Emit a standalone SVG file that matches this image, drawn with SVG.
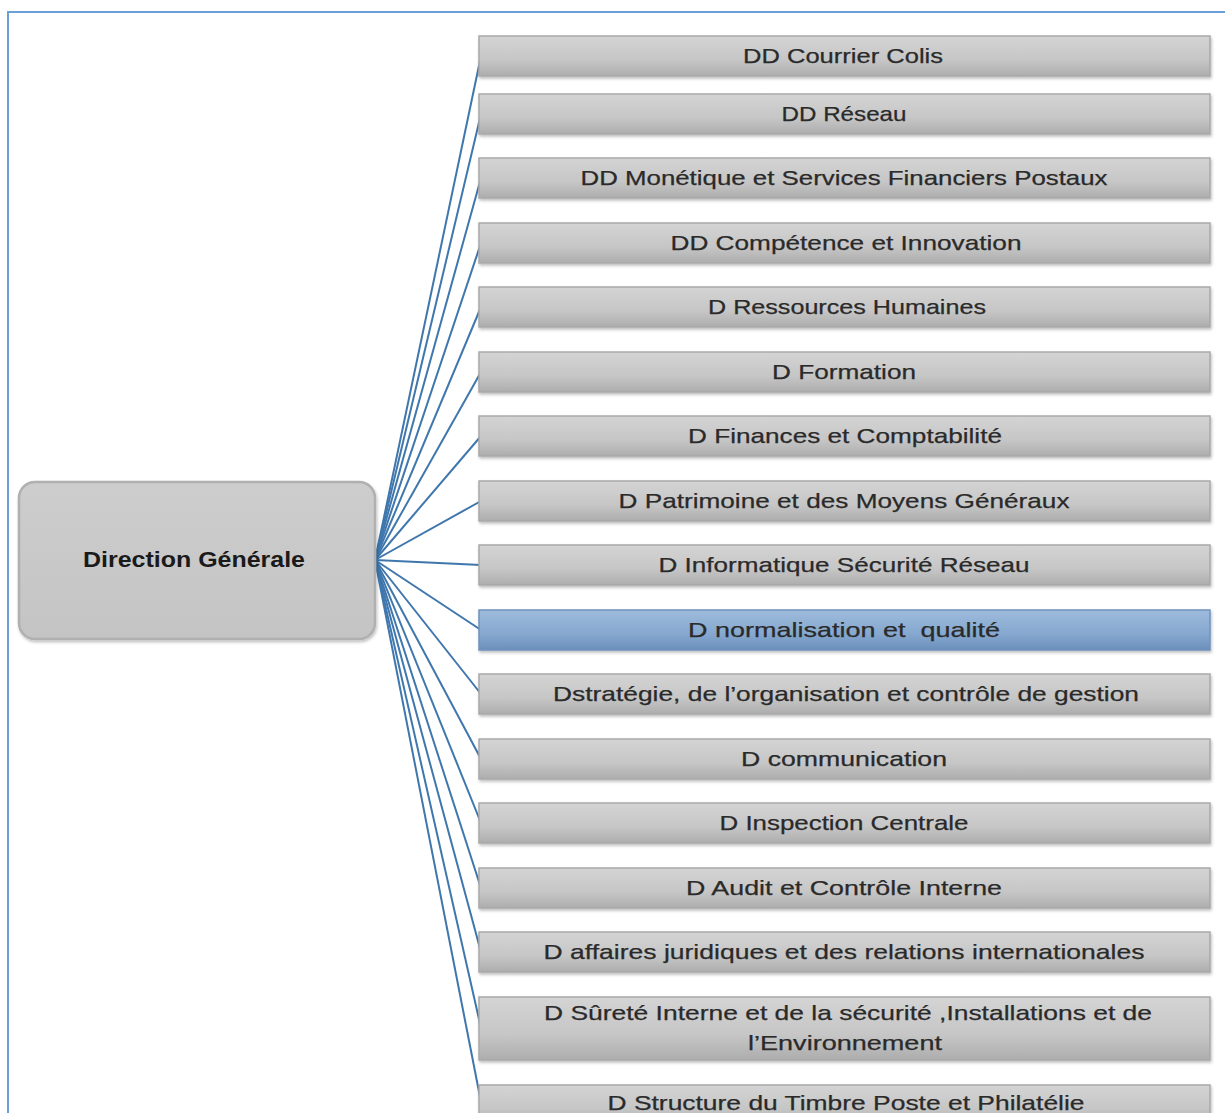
<svg xmlns="http://www.w3.org/2000/svg" width="1225" height="1113" viewBox="0 0 1225 1113">
<defs>
<linearGradient id="g" x1="0" y1="0" x2="0" y2="1">
<stop offset="0" stop-color="#d4d4d4"/><stop offset="0.6" stop-color="#c6c6c6"/><stop offset="1" stop-color="#adadad"/>
</linearGradient>
<linearGradient id="gb" x1="0" y1="0" x2="0" y2="1">
<stop offset="0" stop-color="#9dbbdc"/><stop offset="0.6" stop-color="#86a8cf"/><stop offset="1" stop-color="#6a8fba"/>
</linearGradient>
<linearGradient id="gc" x1="0" y1="0" x2="0" y2="1">
<stop offset="0" stop-color="#cdcdcd"/><stop offset="1" stop-color="#c4c4c4"/>
</linearGradient>
<filter id="sh" x="-5%" y="-20%" width="110%" height="150%">
<feDropShadow dx="1" dy="2" stdDeviation="1.5" flood-color="#000" flood-opacity="0.25"/>
</filter>
</defs>
<style>
.box{fill:url(#g);stroke:#a9a9a9;stroke-width:1.5;filter:url(#sh)}
.hl{fill:url(#gb);stroke:#6f93bd}
.t{font-family:"Liberation Sans",Arial,sans-serif;font-size:21px;fill:#2a2a2a;text-anchor:middle;stroke:#2a2a2a;stroke-width:0.25}
.c line{stroke:#3f77ad;stroke-width:2}
</style>
<rect x="8" y="12" width="1240" height="1200" fill="#fff" stroke="#6a9fd8" stroke-width="2"/>

<g class="c">
<line x1="375" y1="560" x2="481" y2="56"/>
<line x1="375" y1="560" x2="481" y2="114"/>
<line x1="375" y1="560" x2="481" y2="178"/>
<line x1="375" y1="560" x2="481" y2="243"/>
<line x1="375" y1="560" x2="481" y2="307"/>
<line x1="375" y1="560" x2="481" y2="372"/>
<line x1="375" y1="560" x2="481" y2="436"/>
<line x1="375" y1="560" x2="481" y2="501"/>
<line x1="375" y1="560" x2="481" y2="565"/>
<line x1="375" y1="560" x2="481" y2="630"/>
<line x1="375" y1="560" x2="481" y2="694"/>
<line x1="375" y1="560" x2="481" y2="759"/>
<line x1="375" y1="560" x2="481" y2="823"/>
<line x1="375" y1="560" x2="481" y2="888"/>
<line x1="375" y1="560" x2="481" y2="952"/>
<line x1="375" y1="560" x2="481" y2="1028"/>
<line x1="375" y1="560" x2="481" y2="1102"/>
</g>

<g id="root">
<rect x="19" y="482" width="356" height="157" rx="16" fill="url(#gc)" stroke="#b0b0b0" stroke-width="2.5" filter="url(#sh)"/>
<text x="194" y="567" font-family="'Liberation Sans',Arial,sans-serif" font-size="22" font-weight="bold" fill="#1a1a1a" text-anchor="middle" textLength="222" lengthAdjust="spacingAndGlyphs">Direction Générale</text>
</g>

<g id="n1"><rect class="box" x="479" y="36" width="731" height="40"/><text class="t" x="843" y="63" textLength="200" lengthAdjust="spacingAndGlyphs">DD Courrier Colis</text></g>
<g id="n2"><rect class="box" x="479" y="94" width="731" height="40"/><text class="t" x="844" y="121" textLength="125" lengthAdjust="spacingAndGlyphs">DD Réseau</text></g>
<g id="n3"><rect class="box" x="479" y="158" width="731" height="40"/><text class="t" x="844" y="185" textLength="527" lengthAdjust="spacingAndGlyphs">DD Monétique et Services Financiers Postaux</text></g>
<g id="n4"><rect class="box" x="479" y="223" width="731" height="40"/><text class="t" x="846" y="250" textLength="351" lengthAdjust="spacingAndGlyphs">DD Compétence et Innovation</text></g>
<g id="n5"><rect class="box" x="479" y="287" width="731" height="40"/><text class="t" x="847" y="314" textLength="278" lengthAdjust="spacingAndGlyphs">D Ressources Humaines</text></g>
<g id="n6"><rect class="box" x="479" y="352" width="731" height="40"/><text class="t" x="844" y="379" textLength="144" lengthAdjust="spacingAndGlyphs">D Formation</text></g>
<g id="n7"><rect class="box" x="479" y="416" width="731" height="40"/><text class="t" x="845" y="443" textLength="314" lengthAdjust="spacingAndGlyphs">D Finances et Comptabilité</text></g>
<g id="n8"><rect class="box" x="479" y="481" width="731" height="40"/><text class="t" x="844" y="508" textLength="451" lengthAdjust="spacingAndGlyphs">D Patrimoine et des Moyens Généraux</text></g>
<g id="n9"><rect class="box" x="479" y="545" width="731" height="40"/><text class="t" x="844" y="572" textLength="371" lengthAdjust="spacingAndGlyphs">D Informatique Sécurité Réseau</text></g>
<g id="n10"><rect class="box hl" x="479" y="610" width="731" height="40"/><text class="t" x="844" y="637" textLength="312" lengthAdjust="spacingAndGlyphs" xml:space="preserve">D normalisation et  qualité</text></g>
<g id="n11"><rect class="box" x="479" y="674" width="731" height="40"/><text class="t" x="846" y="701" textLength="586" lengthAdjust="spacingAndGlyphs">Dstratégie, de l’organisation et contrôle de gestion</text></g>
<g id="n12"><rect class="box" x="479" y="739" width="731" height="40"/><text class="t" x="844" y="766" textLength="206" lengthAdjust="spacingAndGlyphs">D communication</text></g>
<g id="n13"><rect class="box" x="479" y="803" width="731" height="40"/><text class="t" x="844" y="830" textLength="249" lengthAdjust="spacingAndGlyphs">D Inspection Centrale</text></g>
<g id="n14"><rect class="box" x="479" y="868" width="731" height="40"/><text class="t" x="844" y="895" textLength="316" lengthAdjust="spacingAndGlyphs">D Audit et Contrôle Interne</text></g>
<g id="n15"><rect class="box" x="479" y="932" width="731" height="40"/><text class="t" x="844" y="959" textLength="601" lengthAdjust="spacingAndGlyphs">D affaires juridiques et des relations internationales</text></g>
<g id="n16"><rect class="box" x="479" y="997" width="731" height="63"/><text class="t" x="848" y="1020" textLength="608" lengthAdjust="spacingAndGlyphs">D Sûreté Interne et de la sécurité ,Installations et de</text><text class="t" x="845" y="1050" textLength="194" lengthAdjust="spacingAndGlyphs">l’Environnement</text></g>
<g id="n17"><rect class="box" x="479" y="1085" width="731" height="40"/><text class="t" x="846" y="1110" textLength="477" lengthAdjust="spacingAndGlyphs">D Structure du Timbre Poste et Philatélie</text></g>
</svg>
